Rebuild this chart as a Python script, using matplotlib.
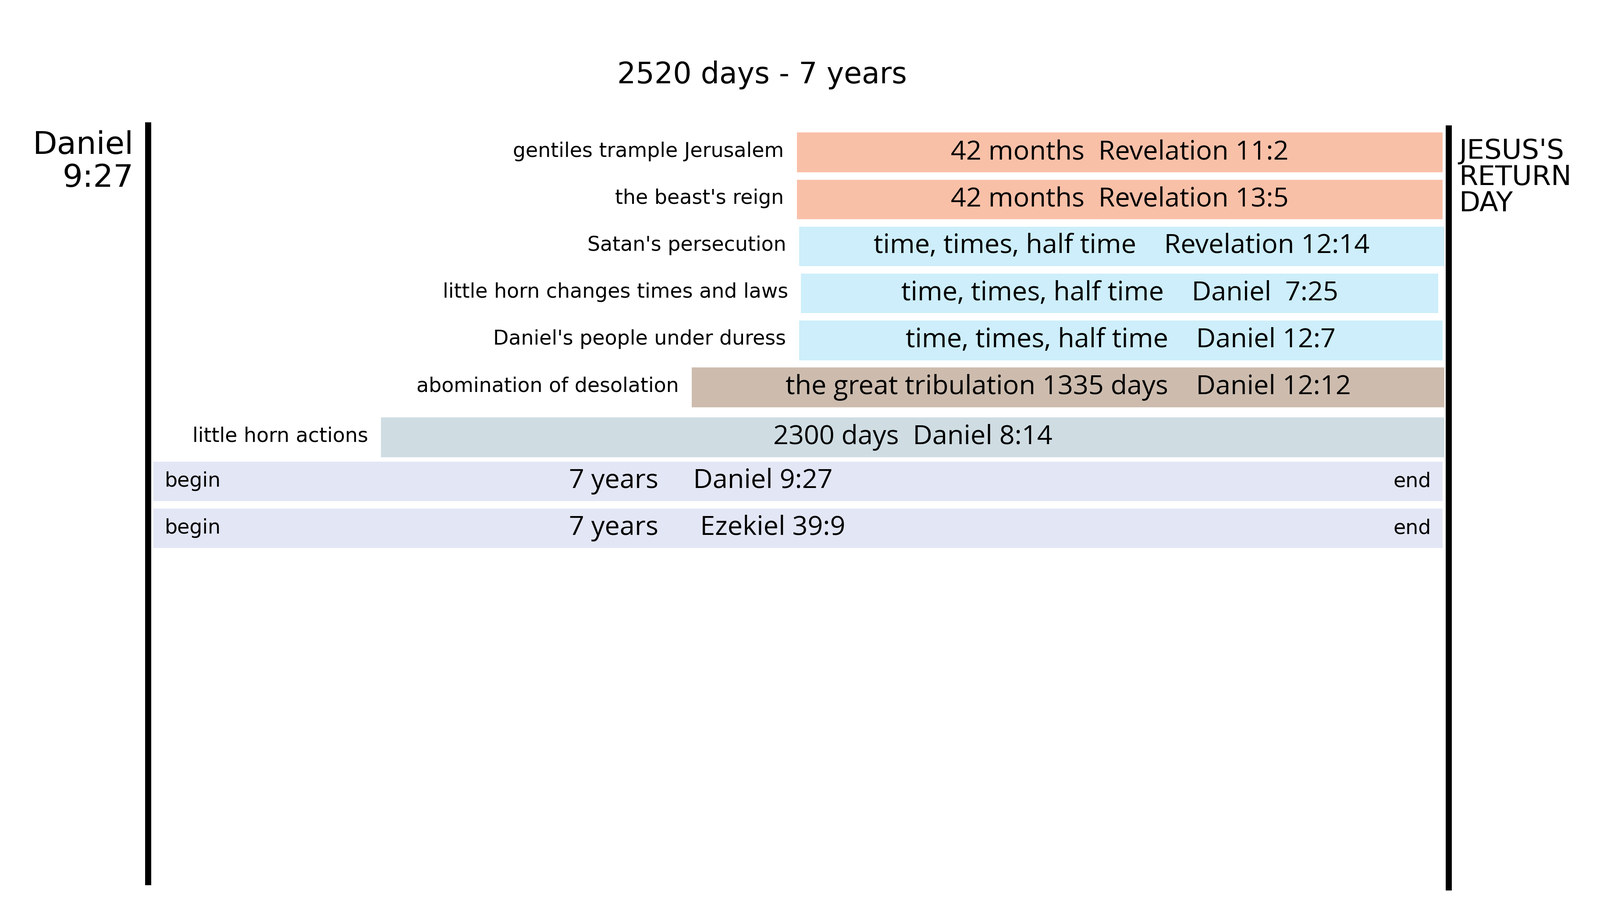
import matplotlib
matplotlib.use("Agg")
import matplotlib.pyplot as plt

labels = ["gentiles trample Jerusalem", "the beast's reign", "Satan's persecution",
          "little horn changes times and laws", "Daniel's people under duress",
          "abomination of desolation", "little horn actions", "begin", "begin"]
bar_texts = ["42 months  Revelation 11:2", "42 months  Revelation 13:5",
             "time, times, half time    Revelation 12:14", "time, times, half time    Daniel  7:25",
             "time, times, half time    Daniel 12:7", "the great tribulation 1335 days    Daniel 12:12",
             "2300 days  Daniel 8:14", "7 years     Daniel 9:27", "7 years      Ezekiel 39:9"]
starts = [1257, 1257, 1261, 1265, 1261, 1053, 451, 10, 10]
ends = [2508, 2508, 2512, 2500, 2508, 2512, 2512, 2508, 2508]
colors = ["#f9c0a8", "#f9c0a8", "#cdeefa", "#cdeefa", "#cdeefa", "#cdbcae", "#cfdde3", "#e3e6f4", "#e3e6f4"]
rows_top = [127, 172, 217, 262, 307, 352, 400, 442, 487]
row_h = 38

W, H = 1533, 863
def d(px):
    return (px - 142) / 1246 * 2520

fig = plt.figure(figsize=(36.5, 20.55), dpi=100)
ax = fig.add_axes([0, 0, 1, 1])
ax.set_xlim(d(0), d(W))
ax.set_ylim(H, 0)
ax.axis("off")

for i, lab in enumerate(labels):
    y = rows_top[i] + row_h / 2
    ax.barh(y, ends[i] - starts[i], left=starts[i], height=row_h, color=colors[i], edgecolor="none")
    if lab == "begin":
        ax.text(starts[i] + 22, y, lab, ha="left", va="center", fontsize=33, family="DejaVu Sans")
        ax.text(ends[i] - 22, y, "end", ha="right", va="center", fontsize=33, family="DejaVu Sans")
        ax.text(d(545), y, bar_texts[i], ha="left", va="center", fontsize=44, family="Open Sans")
    else:
        ax.text(starts[i] - 25, y - 1, lab, ha="right", va="center", fontsize=33, family="DejaVu Sans")
        mid = (starts[i] + ends[i]) / 2
        ax.text(mid, y, bar_texts[i], ha="center", va="center", fontsize=44, family="Open Sans")

ax.plot([0, 0], [117, 848], color="black", lw=10, solid_capstyle="butt")
ax.plot([2520, 2520], [120, 853], color="black", lw=10, solid_capstyle="butt")
ax.text(d(730), 72, "2520 days - 7 years", ha="center", va="center", fontsize=48, family="DejaVu Sans")
ax.text(d(128), 155, "Daniel\n9:27", ha="right", va="center", fontsize=52, family="DejaVu Sans", linespacing=1.1)
ax.text(d(1398), 170, "JESUS'S\nRETURN\nDAY", ha="left", va="center", fontsize=45, family="DejaVu Sans", linespacing=1.0)

fig.savefig("out.png", dpi=100)
